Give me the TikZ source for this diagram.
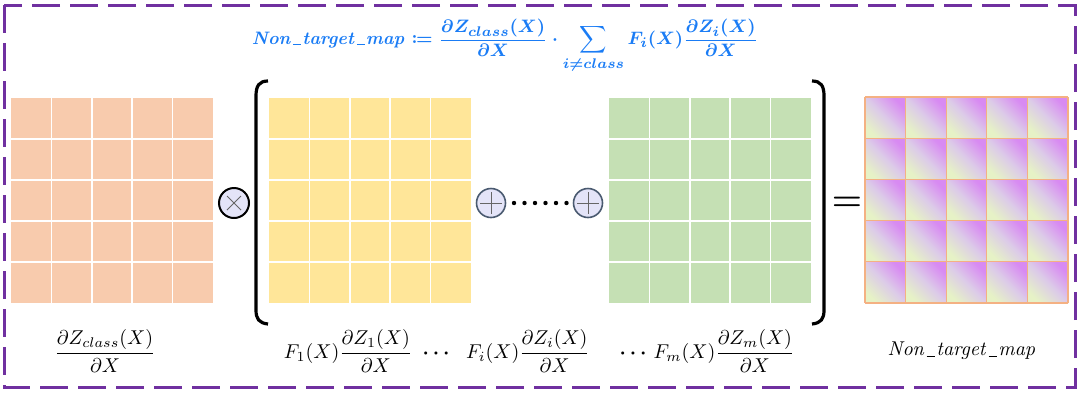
\documentclass[tikz,border=0pt]{standalone}
\usepackage{amsmath,amssymb,mathtools}
\usetikzlibrary{calc}
\definecolor{peach}{HTML}{F8CBAD}
\definecolor{yel}{HTML}{FFE699}
\definecolor{grn}{HTML}{C5E0B4}
\definecolor{framec}{HTML}{7030A0}
\definecolor{titleblue}{HTML}{1A7CF5}
\definecolor{opfill}{HTML}{E4E4F8}
\definecolor{opline}{HTML}{4A5A70}
\definecolor{cellpink}{HTML}{D88AF2}
\definecolor{cellmid}{HTML}{DCCBE8}
\definecolor{cellgreen}{HTML}{E6F2C6}
\definecolor{cellline}{HTML}{F4B183}
\newcommand\usc[1]{\mbox{\kern0.06em\rule[-0.12ex]{0.42em}{#1}\kern0.06em}}
\tikzset{
  frameline/.style={draw=framec, line width=1.5pt, dash pattern=on 14pt off 5pt},
  opcirc/.style={circle, draw=opline, line width=0.8pt, fill=opfill, minimum size=14.5pt, inner sep=0pt},
  mulcirc/.style={circle, draw=black, line width=1pt, fill=opfill, minimum size=15pt, inner sep=0pt},
  opsign/.style={draw=gray!80!black, line width=0.5pt},
  bracketline/.style={draw=black, line width=1.6pt},
  lbl/.style={inner sep=1pt, font=\normalsize},
  eqsign/.style={inner sep=0pt, font=\LARGE},
}
\newcommand\plaingrid[3]{%
  \fill[#3] (#1,#2) rectangle ++(202,205);
  \foreach \k in {1,...,4}{
    \draw[white, line width=0.8pt] ({#1+\k*40.4},#2) -- ++(0,205);
    \draw[white, line width=0.8pt] (#1,{#2+\k*41}) -- ++(202,0);
  }%
}
\begin{document}
\begin{tikzpicture}[x=0.5pt,y=-0.5pt]
\useasboundingbox (0,0) rectangle (1080,392);
\draw[frameline] (4,5) rectangle (1075,387);

\plaingrid{11}{98}{peach}
\plaingrid{269}{98}{yel}
\plaingrid{609}{98}{grn}

% result grid
\foreach \i in {0,...,4}{
  \foreach \j in {0,...,4}{
    \shade[shading=axis, top color=cellpink, bottom color=cellgreen, middle color=cellmid, shading angle=-45]
      ({865+\i*40.6},{97+\j*41.2}) rectangle ++(40.6,41.2);
  }
}
\foreach \k in {0,...,5}{
  \draw[cellline, line width=0.6pt] ({865+\k*40.6},97) -- ++(0,206);
  \draw[cellline, line width=0.6pt] (865,{97+\k*41.2}) -- ++(203,0);
}

% operators
\node[mulcirc] (mul) at (234,203) {};
\draw[opsign] ([shift={(-7,-7)}]mul.center) -- ([shift={(7,7)}]mul.center);
\draw[opsign] ([shift={(-7,7)}]mul.center) -- ([shift={(7,-7)}]mul.center);
\node[opcirc] (add1) at (491,203) {};
\draw[opsign] ([shift={(-11,0)}]add1.center) -- ([shift={(11,0)}]add1.center);
\draw[opsign] ([shift={(0,-11)}]add1.center) -- ([shift={(0,11)}]add1.center);
\node[opcirc] (add2) at (588,203) {};
\draw[opsign] ([shift={(-11,0)}]add2.center) -- ([shift={(11,0)}]add2.center);
\draw[opsign] ([shift={(0,-11)}]add2.center) -- ([shift={(0,11)}]add2.center);
\foreach \n in {0,...,5}{
  \fill ({514+\n*10.5},203) circle (2.2);
}

% brackets
\draw[bracketline] (268,81) .. controls (259,81) and (256,86) .. (256,96) -- (256,310) .. controls (256,319) and (259,323) .. (268,324);
\draw[bracketline] (812,81) .. controls (821,81) and (824,86) .. (824,96) -- (824,310) .. controls (824,319) and (821,323) .. (812,324);

\node[eqsign] (equal) at (847,204) {$\boldsymbol{=}$};

% title
\node[text=titleblue, inner sep=0pt, font=\fontsize{9.5}{11}\selectfont] (title) at (505,46) {{\boldmath$\mathit{Non\usc{0.7pt}target\usc{0.7pt}map} \coloneqq \dfrac{\partial Z_{class}(X)}{\partial X}\cdot\displaystyle\sum_{i\neq class} F_i(X)\dfrac{\partial Z_i(X)}{\partial X}$}};

% labels
\node[lbl] (lclass) at (105,351) {$\dfrac{\partial Z_{class}(X)}{\partial X}$};
\node[lbl] (lone) at (348,351) {$F_1(X)\dfrac{\partial Z_1(X)}{\partial X}$};
\node[lbl] (dotsa) at (438,354) {$\boldsymbol{\cdots}$};
\node[lbl] (li) at (528,351) {$F_i(X)\dfrac{\partial Z_i(X)}{\partial X}$};
\node[lbl] (dotsb) at (635,354) {$\boldsymbol{\cdots}$};
\node[lbl] (lm) at (724,351) {$F_m(X)\dfrac{\partial Z_m(X)}{\partial X}$};
\node[lbl] (lres) at (962,351) {$\mathit{Non\usc{0.4pt}target\usc{0.4pt}map}$};
\end{tikzpicture}
\end{document}
